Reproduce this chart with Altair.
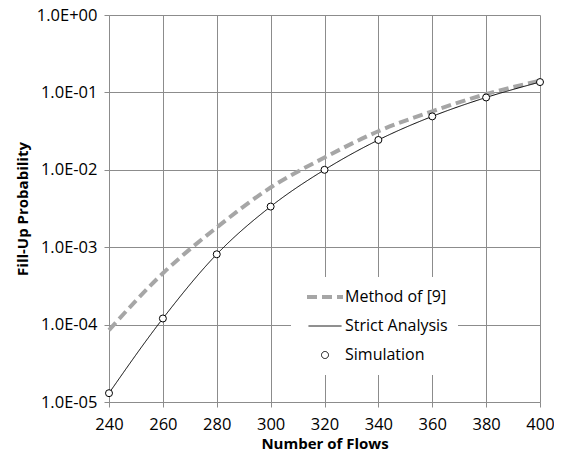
import json
import altair as alt
import pandas as pd

flows = [240, 260, 280, 300, 320, 340, 360, 380, 400]
method_values = [8.5e-5, 4.6e-4, 1.8e-3, 5.9e-3, 1.44e-2, 3.15e-2, 5.7e-2, 9.5e-2, 1.42e-1]
strict_values = [1.3e-5, 1.2e-4, 8.1e-4, 3.35e-3, 1.0e-2, 2.43e-2, 4.9e-2, 8.6e-2, 1.36e-1]
sim_values = [1.3e-5, 1.2e-4, 8.1e-4, 3.35e-3, 1.0e-2, 2.43e-2, 4.9e-2, 8.6e-2, 1.36e-1]
series_names = ["Method of [9]", "Strict Analysis", "Simulation"]
x_ticks = [240, 260, 280, 300, 320, 340, 360, 380, 400]
y_ticks = [1e-5, 1e-4, 1e-3, 1e-2, 1e-1, 1.0]
y_tick_labels = ["1.0E-05", "1.0E-04", "1.0E-03", "1.0E-02", "1.0E-01", "1.0E+00"]

lines_df = pd.DataFrame(
    {"flows": flows + flows,
     "prob": method_values + strict_values,
     "series": [series_names[0]] * len(flows) + [series_names[1]] * len(flows)}
)
sim_df = pd.DataFrame({"flows": flows, "prob": sim_values, "series": [series_names[2]] * len(flows)})

FONT = "Open Sans"
GRID = "#8c8c8c"

x_enc = alt.X("flows:Q", scale=alt.Scale(domain=[240, 400], nice=False),
              axis=alt.Axis(values=x_ticks, title="Number of Flows", format="d"))
y_enc = alt.Y("prob:Q", scale=alt.Scale(type="log", domain=[1e-5, 1.0], nice=False),
              axis=alt.Axis(values=y_ticks, title="Fill-Up Probability",
                            labelExpr=json.dumps(y_tick_labels) + "[round(log(datum.value)/LN10)+5]"))

stroke_enc = alt.Stroke("series:N", title=None,
                        scale=alt.Scale(domain=series_names, range=["#a6a6a6", "#000000", "#000000"]),
                        legend=alt.Legend(orient="none", legendX=182, legendY=262))
dash_enc = alt.StrokeDash("series:N", title=None,
                          scale=alt.Scale(domain=series_names, range=[[10, 5], [1, 0], [1, 0]]))
width_enc = alt.StrokeWidth("series:N", title=None,
                            scale=alt.Scale(type="ordinal", domain=series_names, range=[4, 1, 1]))
shape_enc = alt.Shape("series:N", title=None,
                      scale=alt.Scale(domain=series_names, range=["stroke", "stroke", "circle"]))
size_enc = alt.Size("series:N", title=None,
                    scale=alt.Scale(type="ordinal", domain=series_names, range=[1296, 1089, 49]))

lines = alt.Chart(lines_df).mark_line(interpolate="monotone", strokeCap="butt").encode(
    x=x_enc, y=y_enc, stroke=stroke_enc, strokeDash=dash_enc, strokeWidth=width_enc,
    detail="series:N"
)

points = alt.Chart(sim_df).mark_point(fill="white", fillOpacity=1, filled=False, opacity=1).encode(
    x=x_enc, y=y_enc, stroke=stroke_enc, shape=shape_enc, size=size_enc, strokeWidth=width_enc
)

chart = alt.layer(lines, points).properties(
    width=431, height=387,
    autosize=alt.AutoSizeParams(type="none"),
    padding={"left": 101, "top": 7, "right": 14, "bottom": 54},
).configure_view(stroke=None).configure_axis(
    grid=True, gridColor=GRID, gridWidth=1, domainColor=GRID, tickColor=GRID, tickSize=5,
    labelFont=FONT, labelFontSize=16.5, labelColor="#000000", labelFlush=False,
    titleFont=FONT, titleFontSize=15, titleFontWeight="bold", titleColor="#000000",
).configure_axisY(titlePadding=6, labelPadding=7).configure_axisX(titlePadding=4, labelPadding=9).configure_legend(
    fillColor="white", padding=10, labelFont=FONT, labelFontSize=16, labelColor="#000000",
    rowPadding=9, labelOffset=0, symbolOffset=4, clipHeight=20,
    symbolFillColor="white", symbolStrokeColor="black"
)

chart.save("out.html", embed_options={"renderer": "svg", "actions": False})
